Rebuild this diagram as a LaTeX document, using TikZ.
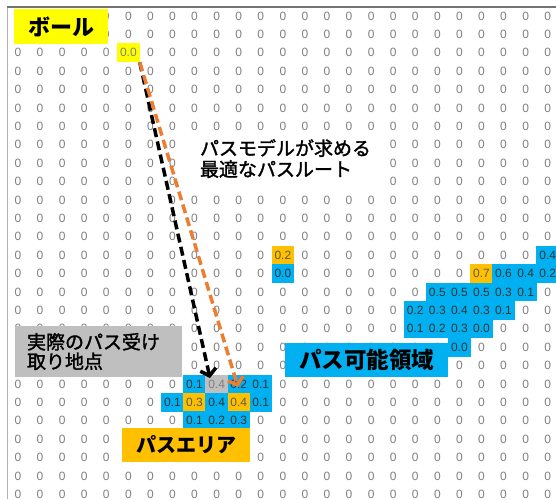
\documentclass[tikz,border=0pt]{standalone}
\usepackage{fontspec}
\setmainfont{Liberation Sans}
\newfontfamily\jp{Noto Sans CJK JP}
\newfontfamily\jpm[FakeBold=1.6]{Noto Sans CJK JP}
\usetikzlibrary{arrows.meta}
\definecolor{cellgray}{HTML}{808080}
\definecolor{xlblue}{HTML}{00B0F0}
\definecolor{xlorange}{HTML}{FFC000}
\definecolor{xlyellow}{HTML}{FFFF00}
\definecolor{xlgray}{HTML}{BFBFBF}
\definecolor{arroworange}{HTML}{ED7D31}
\newcommand\markcell[2]{\expandafter\gdef\csname usedcell-#1-#2\endcsname{}}
\begin{document}
\begin{tikzpicture}[x=1pt,y=-1pt,
  cell/.style={inner sep=0pt,minimum width=22.4pt,minimum height=18.7pt,font=\fontsize{12}{12}\selectfont},
  zero/.style={cell,text=cellgray},
  blu/.style={fill=xlblue,text=black!80},
  org/.style={fill=xlorange,text=black!65},
  yel/.style={fill=xlyellow,text=black!50},
  gry/.style={fill=xlgray,text=black!50},
  tag/.style={inner sep=0pt,text=black},
  route/.style={line width=3.5pt,dash pattern=on 9pt off 4.5pt,-{Straight Barb[length=6.5pt,width=16pt]}}]
\useasboundingbox (0,0) rectangle (556,499);
\fill[white] (0,0) rectangle (556,499);
\clip (0,0) rectangle (556,499);
% coloured cells
\foreach \r/\c/\v/\s in {2/5/0.0/yel,
  13/12/0.2/org,14/12/0.0/blu,13/24/0.4/blu,
  14/21/0.7/org,14/22/0.6/blu,14/23/0.4/blu,14/24/0.2/blu,
  15/19/0.5/blu,15/20/0.5/blu,15/21/0.5/blu,15/22/0.3/blu,15/23/0.1/blu,
  16/18/0.2/blu,16/19/0.3/blu,16/20/0.4/blu,16/21/0.3/blu,16/22/0.1/blu,
  17/18/0.1/blu,17/19/0.2/blu,17/20/0.3/blu,17/21/0.0/blu,
  18/20/0.0/blu,
  20/8/0.1/blu,20/9/0.4/gry,20/10/0.2/blu,20/11/0.1/blu,
  21/7/0.1/blu,21/8/0.3/org,21/9/0.4/blu,21/10/0.4/org,21/11/0.1/blu,
  22/8/0.1/blu,22/9/0.2/blu,22/10/0.3/blu}{
  \node[cell,\s] (v-\r-\c) at ({18+22.07*\c},{16+18.4*\r}) {\v};
  \markcell{\r}{\c}
}
% zero cells
\foreach \r in {0,...,26}{\foreach \c in {0,...,24}{
  \ifcsname usedcell-\r-\c\endcsname\else
    \node[zero] (z-\r-\c) at ({18+22.07*\c},{16+18.4*\r}) {0};
  \fi}}
% frame
\draw[line width=2pt,black!55] (7,7) -- (556,7);
\draw[line width=1pt,black!30] (7,8) -- (7,499);
% labels
\node[tag,fill=xlyellow,minimum width=94pt,minimum height=35pt,font=\jp\bfseries\fontsize{22}{22}\selectfont] (ball) at (61,26.5) {ボール};
\node[tag,fill=white,minimum width=200pt,minimum height=55pt,text width=172pt,align=left,font=\jpm\fontsize{19}{21}\selectfont] (routetext) at (286,158.5) {パスモデルが求める\\最適なパスルート};
\node[tag,fill=xlgray,minimum width=167pt,minimum height=51pt,text width=143pt,align=left,font=\jpm\fontsize{19}{19.5}\selectfont] (actual) at (98.5,351.5) {実際のパス受け\\取り地点};
\node[tag,fill=xlorange,minimum width=128pt,minimum height=34pt,font=\jp\bfseries\fontsize{20}{20}\selectfont] (area) at (186,445) {パスエリア};
\node[tag,fill=xlblue,minimum width=163pt,minimum height=34pt,font=\jp\bfseries\fontsize{22.5}{22.5}\selectfont] (possible) at (366.5,360) {パス可能領域};
% routes
\coordinate (bend) at (210,378);
\coordinate (oend) at (238,387);
\draw[route,black] (v-2-5.south east) -- (bend);
\draw[route,arroworange] (v-2-5.south east) -- (oend);
\end{tikzpicture}
\end{document}
